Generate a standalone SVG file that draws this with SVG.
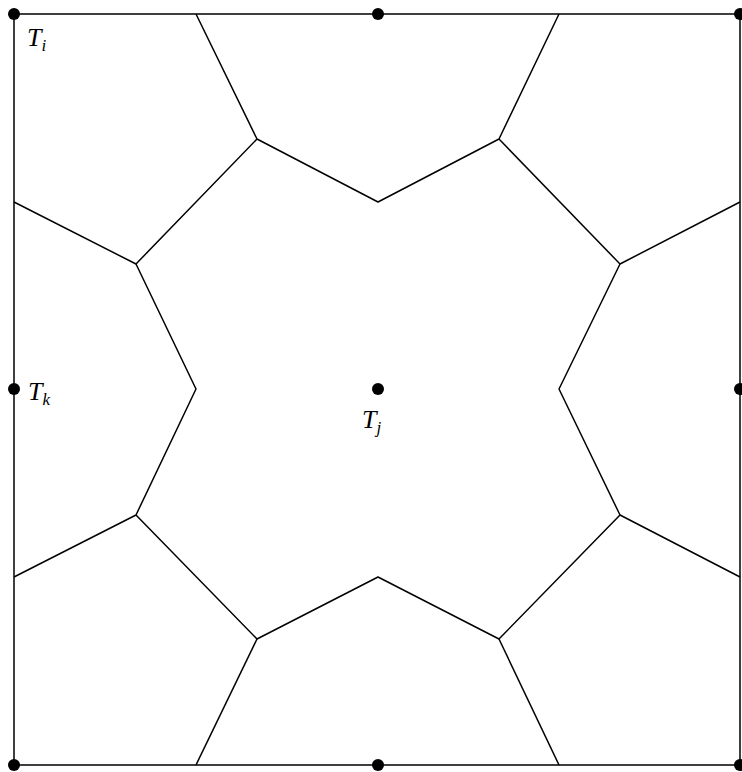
<svg xmlns="http://www.w3.org/2000/svg" width="742" height="772" viewBox="0 0 742 772">
<style>
.e{fill:none;stroke:#000;stroke-width:1.5;stroke-linejoin:round}
.d{fill:#000}
.t{font-family:"Liberation Serif",serif;font-style:italic;font-size:26px;fill:#000}
.s{font-size:17px}
</style>
<rect width="742" height="772" fill="#fff"/>
<g id="connectors">
<rect class="e" x="14" y="14" width="726" height="751"/>
<polyline class="e" points="196,14 257,139 378,202 499,139 559,14"/>
<polyline class="e" points="257,139 136,264 14,202"/>
<polyline class="e" points="136,264 196,389 136,515 14,577"/>
<polyline class="e" points="136,515 257,639 378,577 499,639 620,515 740,577"/>
<polyline class="e" points="257,639 196,765"/>
<polyline class="e" points="499,639 559,765"/>
<polyline class="e" points="620,515 559,389 620,264 740,202"/>
<polyline class="e" points="620,264 499,139"/>
</g>
<g id="points">
<circle class="d" cx="14" cy="14" r="6"/>
<circle class="d" cx="378" cy="14" r="6"/>
<circle class="d" cx="740" cy="14" r="6"/>
<circle class="d" cx="14" cy="389" r="6"/>
<circle class="d" cx="378" cy="389" r="6"/>
<circle class="d" cx="740" cy="389" r="6"/>
<circle class="d" cx="14" cy="765" r="6"/>
<circle class="d" cx="378" cy="765" r="6"/>
<circle class="d" cx="740" cy="765" r="6"/>
</g>
<g id="Ti"><text class="t" x="27" y="46">T<tspan class="s" dy="5">i</tspan></text></g>
<g id="Tk"><text class="t" x="28" y="400">T<tspan class="s" dy="5">k</tspan></text></g>
<g id="Tj"><text class="t" x="362" y="428">T<tspan class="s" dy="5">j</tspan></text></g>
</svg>
